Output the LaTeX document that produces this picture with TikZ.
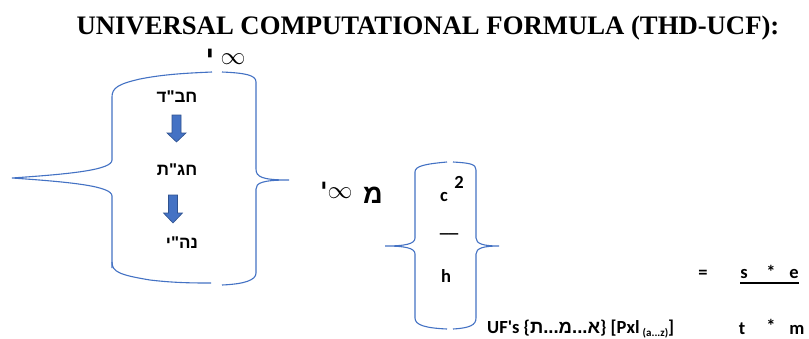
\documentclass[tikz,border=0pt]{standalone}
\usepackage{fontspec}
\setmainfont{Liberation Serif}
\newfontfamily\calfont{Carlito}
\newfontfamily\hebfont[Script=Hebrew]{Liberation Sans}
\TeXXeTstate=1
\definecolor{braceblue}{HTML}{4472C4}
\definecolor{arrowedge}{HTML}{2F528F}
\newcommand{\mydownarrow}[4]{% x, top, head start, tip
  \filldraw[blockarrow] (#1-4.5,#2) -- (#1+4.5,#2) -- (#1+4.5,#3) -- (#1+9.5,#3)
    -- (#1,#4) -- (#1-9.5,#3) -- (#1-4.5,#3) -- cycle;}
\begin{document}
\begin{tikzpicture}[x=1pt,y=-1pt,
  bracestyle/.style={draw=braceblue, line width=1.1pt},
  blockarrow/.style={fill=braceblue, draw=arrowedge, line width=0.6pt},
  heb/.style={inner sep=0pt, font=\hebfont\bfseries\fontsize{17}{20}\selectfont},
  hebbig/.style={inner sep=0pt, font=\hebfont\bfseries\fontsize{27}{30}\selectfont},
  cal/.style={inner sep=0pt, font=\calfont\bfseries\fontsize{18.5}{22}\selectfont},
  titlestyle/.style={inner sep=0pt, font=\bfseries\fontsize{26.7}{30}\selectfont},
  inf/.style={inner sep=0pt}]
\useasboundingbox (0,0) rectangle (809,338);
\fill[white] (0,0) rectangle (809,338);

% title
\node[titlestyle] (title) at (428,28) {UNIVERSAL COMPUTATIONAL FORMULA (THD-UCF):};

% big frame (left brace + right brace + top/bottom pieces)
\draw[bracestyle] (112,268) -- (112,196) .. controls (112,186) and (70,182) .. (12,178)
  .. controls (70,174) and (112,170) .. (112,160) -- (112,97)
  .. controls (112,88) and (118,84) .. (140,79) .. controls (165,74) and (190,73) .. (212,72);
\draw[bracestyle] (222,72) .. controls (245,73) and (256,75) .. (256,82) -- (256,169)
  .. controls (256,177) and (262,180) .. (289,180)
  .. controls (262,180) and (256,183) .. (256,189) -- (256,273)
  .. controls (256,280) and (245,284) .. (222,285);
\draw[bracestyle] (112,262) .. controls (112,272) and (120,275) .. (150,280)
  .. controls (175,283) and (195,283) .. (211,283);

% small frame
\draw[bracestyle] (447,162) .. controls (425,164) and (415,166) .. (415,172) -- (415,238)
  .. controls (415,244) and (405,246) .. (385,246)
  .. controls (405,246) and (415,248) .. (415,254) -- (415,318)
  .. controls (415,325) and (425,328) .. (447,329);
\draw[bracestyle] (453,162) .. controls (470,163) and (476,164) .. (476,170) -- (476,238)
  .. controls (476,244) and (484,246) .. (499,246)
  .. controls (484,246) and (476,248) .. (476,254) -- (476,318)
  .. controls (476,325) and (470,328) .. (453,329);

% top yod and infinity
\node[hebbig] (yodtop) at (210,57) {\beginR י\endR};
\node[inf, font=\fontsize{23}{25}\selectfont] (inftop) at (233,59) {$\infty$};

% sefirot column
\node[heb] (chabad) at (177,97) {\beginR חב"ד\endR};
\mydownarrow{176.5}{115}{133}{142}
\node[heb] (chagat) at (177,170) {\beginR חג"ת\endR};
\mydownarrow{173}{195}{213}{223}
\node[heb] (nehi) at (182,243) {\beginR נה"י\endR};

% yod infinity mem
\node[hebbig, font=\hebfont\bfseries\fontsize{22}{24}\selectfont] (yodmid) at (324,189) {\beginR י\endR};
\node[inf, font=\fontsize{27}{29}\selectfont] (infmid) at (340,193) {$\infty$};
\node[hebbig] (mem) at (373,195) {\beginR מ\endR};

% fraction in small frame
\node[cal] (cc) at (444,197) {c};
\node[cal] (two) at (459,182) {2};
\node[cal] (bar) at (449,234) {\_\_};
\node[cal] (hh) at (446,276) {h};

% right-hand side
\node[cal] (eq) at (703,274) {=};
\node[cal] (ss) at (744,274) {s};
\node[cal] (st1) at (771,272) {*};
\node[cal] (ee) at (794,274) {e};
\draw[line width=1.3pt] (740,283) -- (799,283);

% bottom line
\node[cal, anchor=base west] (uf) at (487,333) {UF's \{{\hebfont\beginR א...מ...ת\endR}\} [Pxl\,{\fontsize{11}{13}\selectfont\raisebox{-3pt}{(a...z)}}]};
\node[cal, anchor=base] (tt) at (742,334) {t};
\node[cal, anchor=base] (st2) at (771,332) {*};
\node[cal, anchor=base] (mm) at (797,334) {m};
\end{tikzpicture}
\end{document}
